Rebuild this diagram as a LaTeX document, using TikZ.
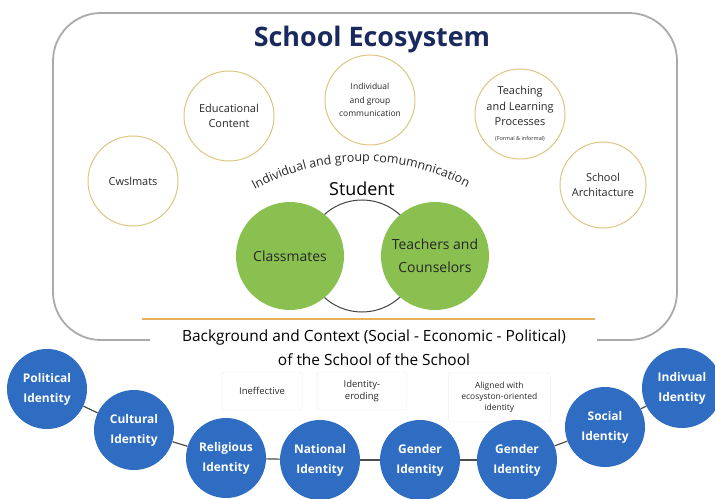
\documentclass[tikz,border=0pt]{standalone}
\usepackage{fontspec}
\setmainfont{Open Sans}
\usetikzlibrary{shapes.geometric, positioning, decorations.text}
\definecolor{titleblue}{RGB}{27,42,94}
\definecolor{ringtan}{RGB}{220,198,130}
\definecolor{leafgreen}{RGB}{138,192,80}
\definecolor{idblue}{RGB}{47,109,195}
\definecolor{edgegray}{RGB}{170,170,170}
\definecolor{rulegold}{RGB}{232,174,96}
\definecolor{ink}{RGB}{40,40,40}
\tikzstyle{factor} = [circle, draw=ringtan, line width=1bp, fill=white, minimum size=90bp, align=center, text=ink, inner sep=1bp, font=\fontsize{11}{15}\selectfont]
\tikzstyle{core} = [circle, fill=leafgreen, minimum size=108bp, align=center, text=black!85, font=\fontsize{14}{23}\selectfont]
\tikzstyle{identity} = [circle, fill=idblue, minimum size=80bp, align=center, text=white, inner sep=1bp, font=\bfseries\fontsize{12}{20}\selectfont]
\tikzstyle{note} = [rectangle, draw=black!7, rounded corners=3bp, fill=white, align=center, text=ink, minimum height=38bp, font=\fontsize{9.5}{12}\selectfont]
\tikzstyle{link} = [draw=black!70, line width=1.2bp]

\begin{document}
\begin{tikzpicture}[x=1bp, y=-1bp]
        \useasboundingbox (0,0) rectangle (715,499);

        % Frame of the ecosystem, open at the bottom for the context text
        \draw [edgegray, line width=1.8bp, rounded corners=48bp] (150,340) -- (53,340) -- (53,13) -- (677,13) -- (677,340) -- (597,340);
        \node (title) at (372,40) [text=titleblue, font=\bfseries\fontsize{27}{32}\selectfont] {School Ecosystem};

        % Factors around the student
        \node (cwslmats) at (133,181) [factor] {Cwslmats};
        \node (content) at (229,116) [factor] {Educational\\Content};
        \node (communication) at (370,100) [factor, font=\fontsize{8.5}{13.5}\selectfont] {Individual\\and group\\communication};
        \node (teaching) at (520,114) [factor, font=\fontsize{11}{15.5}\selectfont] {Teaching\\and Learning\\Processes\\{\fontsize{5.5}{7}\selectfont(Formal \& informal)}};
        \node (architecture) at (603,185) [factor, minimum size=86bp] {School\\Architacture};

        \path [decorate, decoration={text along path, text align=center, text color=ink,
            text={|\fontsize{12.5}{14}\selectfont|Individual and group comumnnication}}]
            (236,201) .. controls (315,149) and (407,149) .. (486,198);

        % Student and the two groups
        \node (student) at (362,189) [font=\fontsize{18}{22}\selectfont] {Student};
        \node (ring) at (362,256) [circle, draw=black!75, line width=1bp, minimum size=112bp] {};
        \node (classmates) at (290,256) [core] {Classmates};
        \node (teachers) at (435,256) [core] {Teachers and\\Counselors};

        % Context
        \draw [rulegold, line width=1.5bp] (142,319) -- (595,319);
        \node (context) at (374,337) [font=\fontsize{15.5}{18}\selectfont] {Background and Context (Social - Economic - Political)};
        \node (school) [below=2bp of context, font=\fontsize{15.5}{18}\selectfont] {of the School of the School};

        \node (ineffective) at (262,391) [note, minimum width=81bp] {Ineffective};
        \node (eroding) [note, right=14bp of ineffective, minimum width=90bp] {Identity-\\eroding};
        \node (aligned) [note, right=41bp of eroding, yshift=-6bp, minimum width=102bp, minimum height=49bp, font=\fontsize{8.5}{11}\selectfont] {Aligned with\\ecosyston-oriented\\identity};

        % Identities
        \node (political) at (47,389) [identity] {Political\\Identity};
        \node (cultural) at (134,430) [identity] {Cultural\\Identity};
        \node (religious) at (226,458) [identity] {Religious\\Identity};
        \node (national) at (320,460) [identity] {National\\Identity};
        \node (gender) at (420,460) [identity] {Gender\\Identity};
        \node (gendertwo) at (517,460) [identity] {Gender\\Identity};
        \node (social) at (605,427) [identity] {Social\\Identity};
        \node (individual) at (682,388) [identity] {Indivual\\Identity};

        \draw [link] (political) -- (cultural);
        \draw [link] (cultural) -- (religious);
        \draw [link] (religious) -- (national);
        \draw [link] (national) -- (gender);
        \draw [link] (gender) -- (gendertwo);
        \draw [link] (gendertwo) -- (social);
        \draw [link] (social) -- (individual);
    \end{tikzpicture}
\end{document}
